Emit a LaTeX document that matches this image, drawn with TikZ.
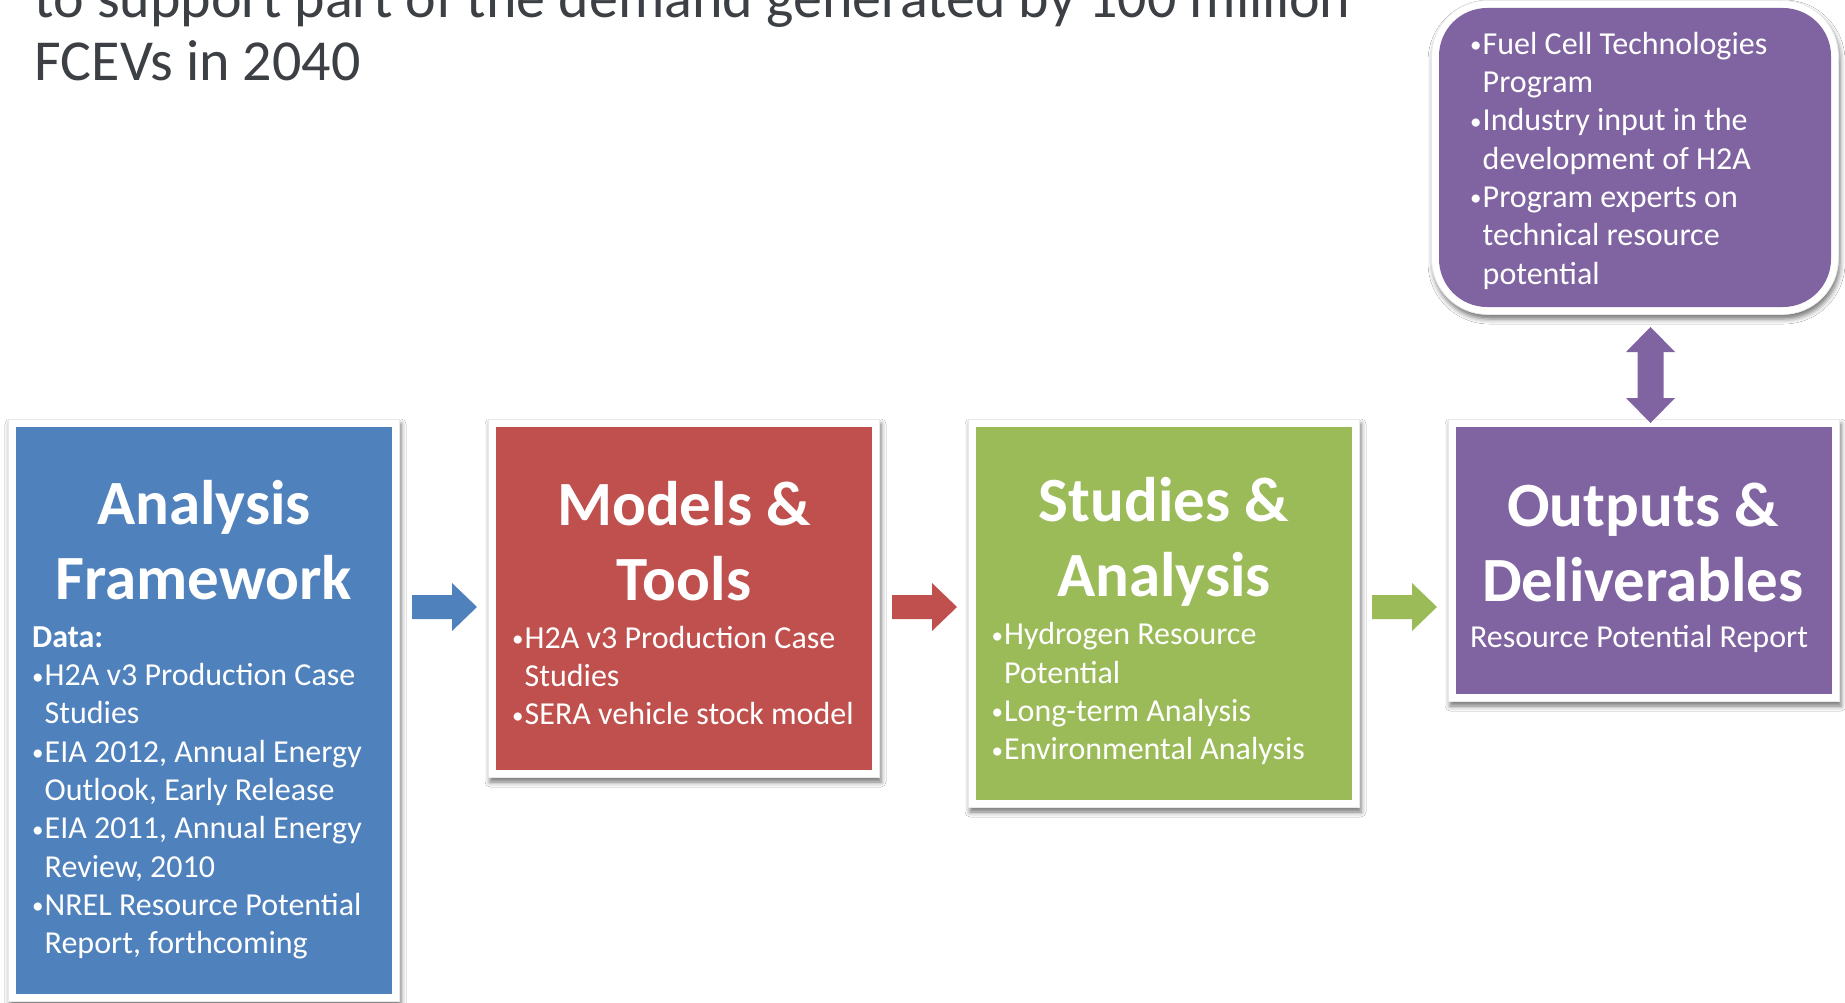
\documentclass[tikz,border=0pt]{standalone}
\usepackage{fontspec}
\setmainfont{Carlito}
\usetikzlibrary{calc,fit,backgrounds,shadows.blur}
\definecolor{bluec}{HTML}{4F81BD}
\definecolor{redc}{HTML}{C0504D}
\definecolor{greenc}{HTML}{9BBB59}
\definecolor{purplec}{HTML}{8064A2}
\definecolor{titlec}{RGB}{60,63,67}
\newcommand\bl{\makebox[12.5pt][l]{\raisebox{1.5pt}{\scalebox{0.72}{•}}}}
\newcommand\ind{\hspace*{12.5pt}}
\newcommand\hstrut{\rule{0pt}{55pt}}
\newcommand\bstrut{\rule{0pt}{30pt}}
\newcommand\tstrut{\rule{0pt}{50pt}}
\newcommand\harrow[2]{%
  \fill[#2] ($(#1)+(0,-12)$) -- ++(40,0) -- ++(0,-12) -- ++(25,24) -- ++(-25,24) -- ++(0,-12) -- ++(-40,0) -- cycle;}
\begin{document}
\begin{tikzpicture}[x=1pt,y=-1pt,
  box/.style={rectangle, inner sep=0pt, outer sep=0pt, anchor=north west},
  frame/.style={rectangle, fill=white, draw=black!9, line width=0.7pt, inner sep=7.5pt,
    blur shadow={shadow xshift=1.5pt, shadow yshift=-4.5pt, shadow blur radius=5pt, shadow opacity=55}},
  head/.style={anchor=north, inner sep=0pt, align=center, text=white, font=\fontsize{63}{75}\selectfont\bfseries},
  body/.style={anchor=north west, inner sep=0pt, align=left, text=white, font=\fontsize{32}{38.3}\selectfont}]
\useasboundingbox (0,0) rectangle (1845,1003);

% title
\node[anchor=north west, inner sep=0pt, align=left, text=titlec, font=\fontsize{58}{63}\selectfont] (title) at (34.5,-33)
  {\tstrut to support part of the demand generated by 100 million\\FCEVs in 2040};

% boxes
\node[box, fill=bluec, minimum width=376pt, minimum height=567pt] (blue) at (16,427) {};
\node[box, fill=redc, minimum width=376pt, minimum height=343pt] (red) at (496,427) {};
\node[box, fill=greenc, minimum width=376pt, minimum height=373pt] (green) at (976,427) {};
\node[box, fill=purplec, minimum width=376pt, minimum height=267pt] (outputs) at (1456,427) {};
\node[box, fill=purplec, rounded corners=48pt, minimum width=392pt, minimum height=299pt] (topbox) at (1439,8) {};

\begin{scope}[on background layer]
  \fill[white] (0,0) rectangle (1845,1003);
  \node[frame, fit=(blue)] (fblue) {};
  \node[frame, fit=(red)] (fred) {};
  \node[frame, fit=(green)] (fgreen) {};
  \node[frame, fit=(outputs)] (foutputs) {};
  \node[frame, rounded corners=56pt, fit=(topbox)] (ftop) {};
\end{scope}

% headings
\node[head] (bluehead) at (204,469) {\hstrut Analysis\\Framework};
\node[head] (redhead) at (684,470) {\hstrut Models \&\\Tools};
\node[head] (greenhead) at (1164,466) {\hstrut Studies \&\\Analysis};
\node[head] (outhead) at (1643,471) {\hstrut Outputs \&\\Deliverables};

% body texts
\node[body] (bluetxt) at (32,617) {\bstrut\textbf{Data:}\\
  \bl H2A v3 Production Case\\ \ind Studies\\
  \bl EIA 2012, Annual Energy\\ \ind Outlook, Early Release\\
  \bl EIA 2011, Annual Energy\\ \ind Review, 2010\\
  \bl NREL Resource Potential\\ \ind Report, forthcoming};
\node[body] (redtxt) at (512,618) {\bstrut\bl H2A v3 Production Case\\ \ind Studies\\
  \bl SERA vehicle stock model};
\node[body] (greentxt) at (991.5,614.5) {\bstrut\bl Hydrogen Resource\\ \ind Potential\\
  \bl Long-term Analysis\\ \bl Environmental Analysis};
\node[anchor=base, inner sep=0pt, text=white, font=\fontsize{32}{38.3}\selectfont] (outtxt) at (1639,647) {Resource Potential Report};
\node[body] (toptxt) at (1470,24) {\bstrut\bl Fuel Cell Technologies\\ \ind Program\\
  \bl Industry input in the\\ \ind development of H2A\\
  \bl Program experts on\\ \ind technical resource\\ \ind potential};

% block arrows
\coordinate (row) at (0,607);
\coordinate (a1) at ($(blue.east |- row)+(20,0)$);
\coordinate (a2) at ($(red.east |- row)+(20,0)$);
\coordinate (a3) at ($(green.east |- row)+(20,0)$);
\harrow{a1}{bluec}
\harrow{a2}{redc}
\harrow{a3}{greenc}

\coordinate (d1) at ($(topbox.south -| outputs.north)+(6.5,20)$);
\fill[purplec] (d1) -- ++(24.5,25) -- ++(-11.5,0) -- ++(0,46) -- ++(11.5,0) -- ++(-24.5,25)
  -- ++(-24.5,-25) -- ++(11.5,0) -- ++(0,-46) -- ++(-11.5,0) -- cycle;
\end{tikzpicture}
\end{document}
